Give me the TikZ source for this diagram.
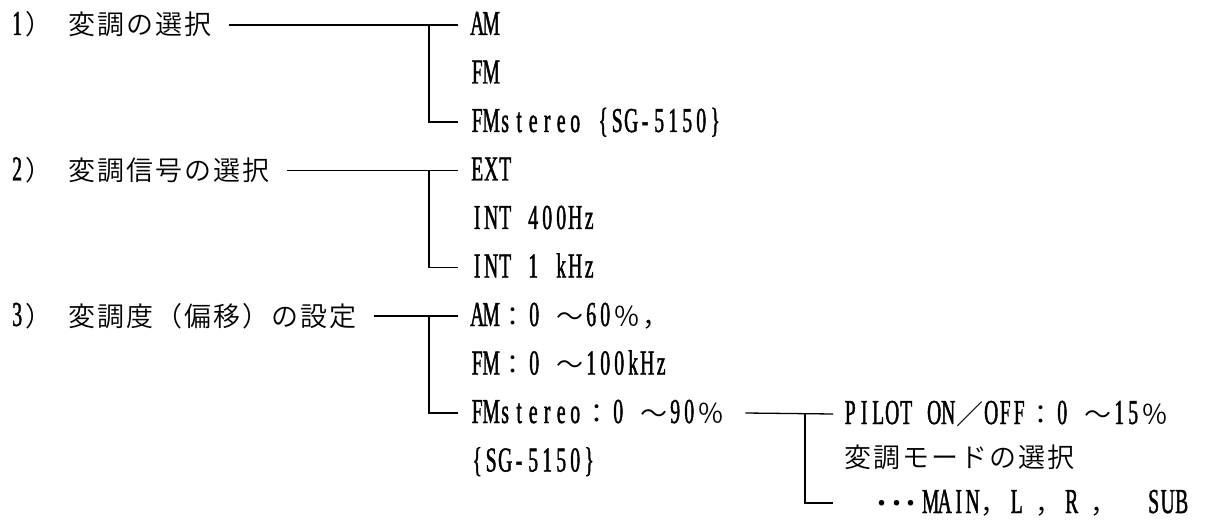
\documentclass[tikz,border=0pt]{standalone}
\usepackage{fontspec}
\newfontfamily\jpfam{Noto Sans CJK JP DemiLight}
\newfontfamily\enfam[FakeStretch=0.56,FakeBold=1.2]{Liberation Serif}
\newcommand\jpfont{\jpfam\fontsize{27pt}{27pt}\selectfont}
\newcommand\enfont{\enfam\fontsize{35pt}{35pt}\selectfont}
\newcommand\dotmark{\makebox[14.5pt][c]{\jpfont ・}}
% put #2 at horizontal offset #1 inside a line without taking up width
\newcommand\at[2]{\makebox[0pt][l]{\hspace*{#1}#2}}

% Fixed-pitch setting: half-width characters on a 14pt grid, full-width on 29pt
\ExplSyntaxOn
\NewDocumentCommand\tx{m}{
  \tl_map_inline:nn {#1}
    {
      \int_compare:nNnTF {`##1} > {127}
        { \makebox[29pt][c]{\jpfont ##1} }
        { \makebox[14pt][c]{\enfont ##1} }
    }
}
\ExplSyntaxOff

\tikzset{
  lbl/.style={anchor=west, inner sep=0pt, text height=24pt, text depth=4pt},
  wire/.style={line width=1.3pt, black},
}

\begin{document}
\begin{tikzpicture}[x=1pt, y=-1pt]
\useasboundingbox (0,0) rectangle (1209,521);

% 1) modulation type
\node[lbl] (h1)  at (10,25)    {\tx{1）~変調の選択}};
\node[lbl] (c11) at (470,25)   {\tx{AM}};
\node[lbl] (c12) at (470,73.5) {\tx{FM}};
\node[lbl] (c13) at (470,122)  {\tx{FMstereo~\{SG-5150\}}};

% 2) modulation signal
\node[lbl] (h2)  at (10,170.5) {\tx{2）~変調信号の選択}};
\node[lbl] (c21) at (470,170.5){\tx{EXT}};
\node[lbl] (c22) at (470,219)  {\tx{INT~400Hz}};
\node[lbl] (c23) at (470,267.5){\tx{INT~1~kHz}};

% 3) modulation depth (deviation)
\node[lbl] (h3)  at (10,316)   {\tx{3）~変調度（偏移）の設定}};
\node[lbl] (c31) at (470,316)  {\tx{AM：0~～60％，}};
\node[lbl] (c32) at (470,364.5){\tx{FM：0~～100kHz}};
\node[lbl] (c33) at (470,413)  {\tx{FMstereo：0~～90％}};
\node[lbl] (c34) at (470,461.5){\tx{\{SG-5150\}}};

% stereo sub-options
\node[lbl] (s1) at (843,414) {\tx{PILOT~ON／OFF：0~～15％}};
\node[lbl] (s2) at (843,457) {\tx{変調モードの選択}};
\node[lbl] (s3) at (875,503) {\hbox to 330pt{%
  \dotmark\dotmark\dotmark
  \at{5pt}{\tx{MAIN，}}%
  \at{91pt}{\tx{L}}\at{116pt}{\tx{，}}%
  \at{146pt}{\tx{R}}\at{171pt}{\tx{，}}%
  \at{228pt}{\tx{SUB}}\hfil}};

% connectors
\draw[wire] ([xshift=17pt]h1.east) -- ([xshift=-12pt]c11.west);
\draw[wire] ([xshift=-41pt]c11.west) |- ([xshift=-12pt]c13.west);

\draw[wire] ([xshift=17pt]h2.east) -- ([xshift=-12pt]c21.west);
\draw[wire] ([xshift=-41pt]c21.west) |- ([xshift=-12pt]c23.west);

\draw[wire] ([xshift=17pt]h3.east) -- ([xshift=-12pt]c31.west);
\draw[wire] ([xshift=-41pt]c31.west) |- ([xshift=-12pt]c33.west);

\draw[wire] ([xshift=20pt]c33.east) -- ([xshift=-10pt]s1.west);
\draw[wire] ([xshift=-38pt]s1.west) |- ([xshift=-42pt]s3.west);
\end{tikzpicture}
\end{document}
